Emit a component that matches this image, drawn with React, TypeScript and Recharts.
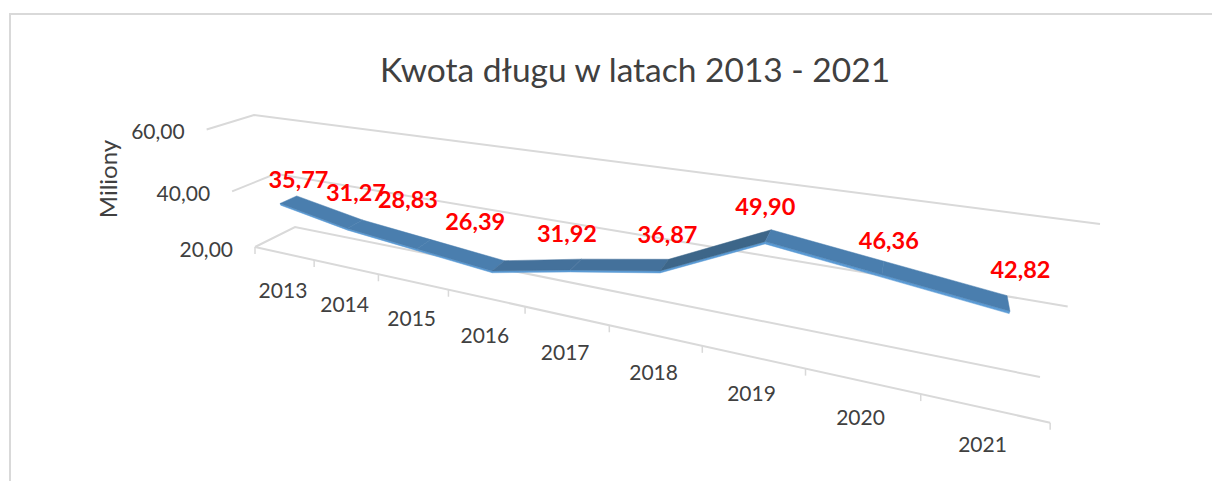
import { CartesianGrid, Line, LineChart, XAxis, YAxis } from "recharts";

const years = ["2013", "2014", "2015", "2016", "2017", "2018", "2019", "2020", "2021"];
const debtMillions = [35.77, 31.27, 28.83, 26.39, 31.92, 36.87, 49.9, 46.36, 42.82];
const valueTicks = [20, 40, 60];

const data = years.map((year, i) => ({ year, debt: debtMillions[i] }));

const WIDTH = 1212;
const HEIGHT = 481;
const PLOT = { left: 100, top: 40, width: 1012, height: 400 };
const BAND = PLOT.width / years.length;
const X_AXIS_H = 30;
const Y_AXIS_W = 60;

// projected corners of the 3d box, back wall and floor
const WALL = [[295, 227], [1040, 377], [1100, 224], [254, 115]];
const FLOOR = [[295, 227], [1040, 377], [1050, 422], [255, 247]];

const GRID = "#d9d9d9";
const TEXT = "#404040";
const FONT = "Lato, 'Open Sans', sans-serif";

// manual label placement, the original has them dragged around by hand
const LABEL_NUDGE = [[10, -21], [1, -32], [-16, -45], [-23, -45], [-9, -31], [3, -31], [-3, -30], [6, -28], [12, -34]];

// square -> quad homography
function quadMatrix(q: number[][]) {
  const [[x0, y0], [x1, y1], [x2, y2], [x3, y3]] = q;
  const dx1 = x1 - x2, dx2 = x3 - x2, sx = x0 - x1 + x2 - x3;
  const dy1 = y1 - y2, dy2 = y3 - y2, sy = y0 - y1 + y2 - y3;
  const den = dx1 * dy2 - dx2 * dy1;
  const g = (sx * dy2 - dx2 * sy) / den;
  const h = (dx1 * sy - sx * dy1) / den;
  return {
    a: x1 - x0 + g * x1, b: x3 - x0 + h * x3, c: x0,
    d: y1 - y0 + g * y1, e: y3 - y0 + h * y3, f: y0,
    g, h,
  };
}

const wall = quadMatrix(WALL);
const floor = quadMatrix(FLOOR);

// flat plot pixel + depth (0 back wall, 1 front) -> screen
function project(px: number, py: number, z: number) {
  const u = (px - PLOT.left) / PLOT.width;
  const w = (PLOT.top + PLOT.height - py) / PLOT.height;
  const den = wall.g * u + wall.h * w + floor.h * z + 1;
  return {
    x: (wall.a * u + wall.b * w + floor.b * z + wall.c) / den,
    y: (wall.d * u + wall.e * w + floor.e * z + wall.f) / den,
  };
}

const poly = (pts: { x: number; y: number }[]) => pts.map((p) => `${p.x},${p.y}`).join(" ");

const RIBBON_BACK = 0.3;
const RIBBON_FRONT = 0.7;
const RIBBON_THICK = 6;

function ribbonColor(rise: number) {
  if (rise > 8) return "#3d6689";
  if (rise > 0) return "#44719b";
  return "#4a7eae";
}

function RibbonSegment(props: any) {
  const { index, points } = props;
  const p = points[index];
  const n = points[index + 1];
  if (!n) return <g key={index} />;
  const topColor = ribbonColor(debtMillions[index + 1] - debtMillions[index]);
  const a = project(p.x, p.y, RIBBON_FRONT);
  const b = project(n.x, n.y, RIBBON_FRONT);
  const c = project(n.x, n.y + RIBBON_THICK, RIBBON_FRONT);
  const d = project(p.x, p.y + RIBBON_THICK, RIBBON_FRONT);
  const e = project(n.x, n.y, RIBBON_BACK);
  const f = project(p.x, p.y, RIBBON_BACK);
  return (
    <g key={index}>
      <polygon points={poly([d, c, b, a])} fill="#5b9bd5" stroke="#5b9bd5" strokeWidth={0.5} />
      <polygon points={poly([a, b, e, f])} fill={topColor} stroke={topColor} strokeWidth={0.5} />
    </g>
  );
}

function ValueLabel(props: any) {
  const { x, y, value, index } = props;
  const p = project(x, y, (RIBBON_BACK + RIBBON_FRONT) / 2);
  const [dx, dy] = LABEL_NUDGE[index];
  return (
    <text x={p.x + dx} y={p.y + dy} textAnchor="middle" dominantBaseline="central" fontFamily={FONT} fontSize={23.5} fontWeight={700} fill="#ff0000">
      {Number(value).toFixed(2).replace(".", ",")}
    </text>
  );
}

function YearTick(props: any) {
  const { x, payload, index } = props;
  const y = PLOT.top + PLOT.height;
  const left = project(x - BAND / 2, y, 1);
  const right = project(x + BAND / 2, y, 1);
  const mid = project(x, y, 1);
  return (
    <g>
      <line x1={left.x} y1={left.y} x2={left.x} y2={left.y + 7} stroke={GRID} strokeWidth={1.5} />
      {index === years.length - 1 && <line x1={right.x} y1={right.y} x2={right.x} y2={right.y + 7} stroke={GRID} strokeWidth={1.5} />}
      <text x={mid.x - 1} y={mid.y + 36} textAnchor="middle" dominantBaseline="central" fontFamily={FONT} fontSize={21} fill={TEXT}>
        {payload.value}
      </text>
    </g>
  );
}

function ValueTick(props: any) {
  const { y, payload } = props;
  const p = project(PLOT.left, y, 1);
  return (
    <text x={p.x - 22} y={p.y + 1} textAnchor="end" dominantBaseline="central" fontFamily={FONT} fontSize={21} fill={TEXT}>
      {payload.value.toFixed(2).replace(".", ",")}
    </text>
  );
}

function GridLine(props: any) {
  const { y1, x1, x2 } = props;
  const a = project(x1, y1, 1);
  const b = project(x1, y1, 0);
  const c = project(x2, y1, 0);
  const isFloor = Math.abs(y1 - (PLOT.top + PLOT.height)) < 1;
  const front = project(x2, y1, 1);
  return (
    <g>
      <polyline points={poly([a, b, c])} fill="none" stroke={GRID} strokeWidth={2} />
      {isFloor && <line x1={a.x} y1={a.y} x2={front.x} y2={front.y} stroke={GRID} strokeWidth={2} />}
    </g>
  );
}

export default function App() {
  return (
    <div style={{ position: "absolute", left: 0, top: 0, width: WIDTH, height: HEIGHT, overflow: "hidden", background: "#fff" }}>
      <div style={{ position: "absolute", left: 9, top: 13, width: 1210, height: 480, borderTop: `2px solid ${GRID}`, borderLeft: `2px solid ${GRID}` }} />
      <div style={{ position: "absolute", left: 0, width: 1270, top: 49, textAlign: "center", fontFamily: FONT, fontSize: 33.5, color: TEXT, whiteSpace: "nowrap" }}>
        Kwota długu w latach 2013 - 2021
      </div>
      <div style={{ position: "absolute", left: 107, top: 179, transform: "translate(-50%,-50%) rotate(-90deg)", fontFamily: FONT, fontSize: 24, color: TEXT }}>
        Miliony
      </div>
      <div style={{ position: "absolute", left: 0, top: 0 }}>
        <LineChart
          width={WIDTH}
          height={HEIGHT}
          data={data}
          margin={{
            left: PLOT.left - Y_AXIS_W,
            top: PLOT.top,
            right: WIDTH - PLOT.left - PLOT.width,
            bottom: HEIGHT - PLOT.top - PLOT.height - X_AXIS_H,
          }}
        >
          <CartesianGrid vertical={false} horizontal={GridLine as any} />
          <XAxis
            dataKey="year"
            height={X_AXIS_H}
            interval={0}
            padding={{ left: BAND / 2, right: BAND / 2 }}
            axisLine={false}
            tickLine={false}
            tick={YearTick as any}
          />
          <YAxis
            width={Y_AXIS_W}
            domain={[20, 60]}
            ticks={valueTicks}
            axisLine={false}
            tickLine={false}
            tick={ValueTick as any}
          />
          <Line
            dataKey="debt"
            stroke="none"
            isAnimationActive={false}
            dot={RibbonSegment as any}
            label={ValueLabel as any}
          />
        </LineChart>
      </div>
    </div>
  );
}
